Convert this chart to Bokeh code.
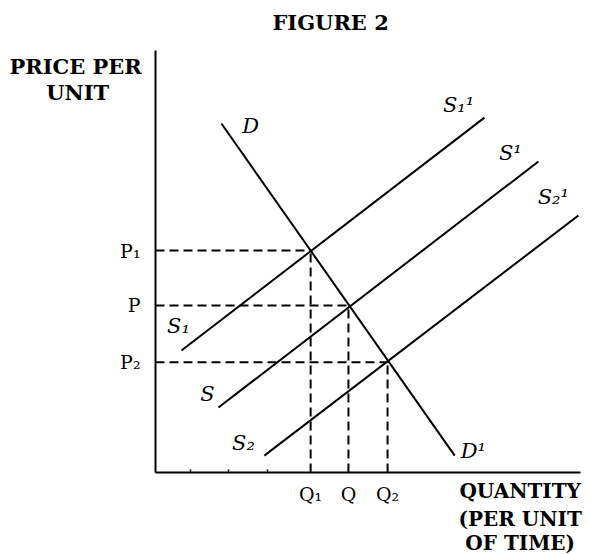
from bokeh.plotting import figure
from bokeh.models import Range1d, FixedTicker, Label
from bokeh.embed import file_html
from bokeh.resources import INLINE

# ---- data (quantity on x, price on y, arbitrary units 0-10) ----
demand_q = [1.55, 7.04]
demand_p = [8.27, 0.40]
supply_s1_q = [0.61, 7.74]
supply_s1_p = [2.89, 8.41]
supply_s_q = [1.48, 9.01]
supply_s_p = [1.54, 7.37]
supply_s2_q = [2.56, 9.95]
supply_s2_p = [0.40, 6.09]
eq_q = [3.65, 4.54, 5.46]
eq_p = [5.26, 3.96, 2.61]
q_labels = ["Q\u2081", "Q", "Q\u2082"]
p_labels = ["P\u2081", "P", "P\u2082"]
minor_q_ticks = [0.82, 1.72, 2.64]

SERIF = "DejaVu Serif"

p = figure(width=590, height=554, output_backend="svg", toolbar_location=None,
           x_range=Range1d(-3.647, 10.235), y_range=Range1d(-1.943, 11.185),
           min_border=0)
p.outline_line_color = None
p.xgrid.visible = False
p.ygrid.visible = False
p.background_fill_color = "white"
p.border_fill_color = "white"

# axes, pinned at the origin and bounded to the quadrant
for ax in (p.xaxis[0], p.yaxis[0]):
    ax.fixed_location = 0
    ax.bounds = (0, 10)
    ax.axis_line_width = 2
    ax.axis_line_color = "black"
    ax.major_tick_in = 0
    ax.major_tick_out = 0
    ax.minor_tick_out = 0
    ax.major_label_text_font = SERIF
    ax.major_label_text_font_size = "19px"
    ax.major_label_text_color = "black"

p.xaxis.ticker = FixedTicker(ticks=eq_q, minor_ticks=minor_q_ticks)
p.xaxis.minor_tick_in = 3
p.xaxis.minor_tick_line_width = 1.5
p.xaxis.minor_tick_line_color = "black"
p.xaxis.major_label_overrides = {q: lab for q, lab in zip(eq_q, q_labels)}
p.xaxis.major_label_standoff = 10

p.yaxis.ticker = FixedTicker(ticks=eq_p, minor_ticks=[])
p.yaxis.minor_tick_in = 0
p.yaxis.major_label_overrides = {v: lab for v, lab in zip(eq_p, p_labels)}
p.yaxis.major_label_standoff = 15

# dashed guide lines
p.segment(x0=[0] * len(eq_q), y0=eq_p, x1=eq_q, y1=eq_p,
          line_color="black", line_width=2, line_dash="9 5")
p.segment(x0=eq_q, y0=[0] * len(eq_q), x1=eq_q, y1=eq_p,
          line_color="black", line_width=2, line_dash="9 5")

# curves
for xs, ys in ((demand_q, demand_p), (supply_s1_q, supply_s1_p),
               (supply_s_q, supply_s_p), (supply_s2_q, supply_s2_p)):
    p.line(xs, ys, line_color="black", line_width=2)

def lab(x, y, text, style="italic", size="21px", align="center"):
    p.add_layout(Label(x=x, y=y, text=text, text_font=SERIF, text_font_style=style,
                       text_font_size=size, text_align=align, text_baseline="middle",
                       text_color="black"))

# curve labels
lab(2.24, 8.22, "D")
lab(7.48, 0.52, "D\u00b9")
lab(7.13, 8.70, "S\u2081\u00b9")
lab(8.35, 7.56, "S\u00b9")
lab(9.36, 6.52, "S\u2082\u00b9")
lab(0.54, 3.48, "S\u2081")
lab(1.22, 1.87, "S")
lab(2.07, 0.71, "S\u2082")

# titles
lab(4.12, 10.66, "FIGURE 2", style="bold", size="21px")
lab(-1.88, 9.62, "PRICE PER", style="bold", size="21px")
lab(-1.83, 9.00, "UNIT", style="bold", size="21px")
lab(8.58, -0.43, "QUANTITY", style="bold", size="20px")
lab(8.58, -1.09, "(PER UNIT", style="bold", size="20px")
lab(8.58, -1.66, "OF TIME)", style="bold", size="20px")

open("out.html", "w").write(file_html(p, INLINE))
